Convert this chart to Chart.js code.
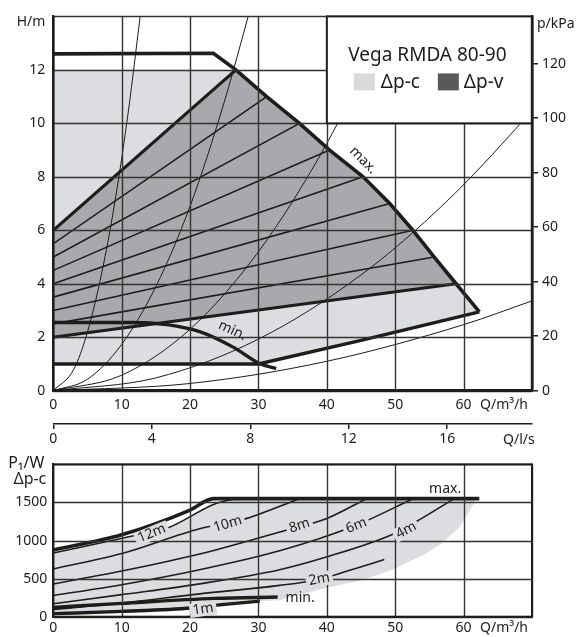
<!DOCTYPE html>
<html>
<head>
<meta charset="utf-8">
<script src="https://cdn.jsdelivr.net/npm/chart.js@4.4.1/dist/chart.umd.min.js"></script>
<style>
    body { margin: 0; background: #fff; width: 581px; height: 637px; overflow: hidden; position: relative; }
    #headChart { position: absolute; left: 0; top: 0; }
    #powerChart { position: absolute; left: 0; top: 450px; }
</style>
</head>
<body>
<canvas id="headChart" width="581" height="450"></canvas>
<canvas id="powerChart" width="581" height="187"></canvas>
<script>
// ---- head chart (H/m over Q/m3/h) ----
const maxQ = [0, 23.4, 26.7, 31.2, 36, 40.4, 45.3, 49.2, 52.6, 55.7, 58.9, 62.3];
const maxH = [12.6, 12.62, 12, 11, 10, 9, 8, 7, 6, 5, 4, 2.95];

const minQ = [0, 11.7, 16.6, 21.4, 26.3, 30.2, 32.6];
const minH = [2.55, 2.55, 2.47, 2.21, 1.63, 1.01, 0.83];

// lower edge of the dp-c field (1 m setting)
const pcLowQ = [0, 30, 45, 62.3];
const pcLowH = [1, 1, 1.88, 2.95];
const pcTopH = 12;

// dp-v settings: start at Q=0 with half head, end on max curve
const pvStartH = [2, 2.5, 3, 3.5, 4, 4.5, 5, 5.5, 6];
const pvEndQ = [58.9, 55.7, 52.6, 49.2, 45.3, 40.4, 36, 31.2, 26.7];
const pvEndH = [4, 5, 6, 7, 8, 9, 10, 11, 12];

// system curves
const sysAQ = [0, 3, 5, 7, 9, 11, 12.7];
const sysAH = [0, 0.8, 2.2, 4.3, 7.05, 10.5, 14];
const sysBQ = [0, 5, 10, 15, 20, 25, 28.5];
const sysBH = [0, 0.43, 1.73, 3.9, 6.9, 10.8, 14];
const sysCQ = [0, 10, 20, 30, 40, 49.2];
const sysCH = [0, 0.58, 2.3, 5.2, 9.25, 14];
const sysDQ = [0, 15, 30, 45, 57.4, 68.2, 70];
const sysDH = [0, 0.48, 1.93, 4.33, 7.05, 9.96, 10.5];
const sysEQ = [0, 20, 40, 60, 70];
const sysEH = [0, 0.27, 1.1, 2.47, 3.36];

// ---- power chart (P1/W over Q/m3/h) ----
const pMaxQ = [0, 10, 20, 23.4, 62.3];
const pMaxP = [875, 1075, 1400, 1550, 1550];
const p12Q = [0, 11.9, 16.8, 23.6, 26.5];
const p12P = [836, 1066, 1168, 1480, 1550];
const p10Q = [0, 10, 21.4, 27.7, 36];
const p10P = [626, 830, 1155, 1275, 1550];
const p8Q = [0, 10, 21.4, 33, 40, 45.8];
const p8P = [431, 600, 824, 1110, 1290, 1550];
const p6Q = [0, 10, 21.4, 33.1, 44, 52.6];
const p6P = [279, 420, 617, 865, 1190, 1550];
const p4Q = [0, 10, 21.4, 33.1, 39.9, 49.9, 54, 58.6];
const p4P = [171, 290, 431, 617, 783, 1093, 1298, 1550];
const p2Q = [0, 10, 21.4, 33.1, 38.9, 43, 48.4];
const p2P = [95, 180, 300, 411, 493, 600, 750];
const p1Q = [0, 10, 20.2, 24.3, 30.2];
const p1P = [40, 70, 114, 155, 205];
const pMinQ = [0, 10, 23.6, 32.8];
const pMinP = [122, 175, 240, 258];
// right/lower edge of the grey dp-c field
const fieldQ = [61.8, 61.5, 59.4, 56.8, 54.3, 49.6, 44.8, 40.4, 33.1];
const fieldP = [1550, 1485, 1175, 960, 820, 617, 473, 390, 215];

const curveLabels = ['12m', '10m', '8m', '6m', '4m', '2m', '1m'];
const curveLabelQ = [14.4, 25.5, 36, 44.3, 51.6, 38.9, 21.9];
const curveLabelP = [1095, 1217, 1196, 1196, 1134, 493, 100];

const qGrid = [0, 10, 20, 30, 40, 50, 60, 70];
const hGrid = [0, 2, 4, 6, 8, 10, 12, 14];
const pGrid = [0, 500, 1000, 1500, 2000];
const lsTickStep = 4;
const kpaPerM = 9.81;

Chart.defaults.font.family = "'Noto Sans', 'DejaVu Sans', sans-serif";
Chart.defaults.font.size = 14;
Chart.defaults.color = '#1d1d1b';

const INK = '#1d1d1b';
const GRID = '#333332';
const LIGHT = '#dcdde0';
const DARK = '#a7a9ac';

const pts = (qs, vs) => qs.map((q, i) => ({ x: q, y: vs[i] }));

function line(data, width, smooth) {
    return {
        data: data,
        borderColor: INK,
        borderWidth: width,
        pointRadius: 0,
        fill: false,
        tension: smooth ? 0.4 : 0,
        cubicInterpolationMode: smooth ? 'monotone' : 'default',
        order: 1
    };
}

function area(data, color, order) {
    return {
        data: data,
        borderWidth: 0,
        borderColor: 'transparent',
        backgroundColor: color,
        pointRadius: 0,
        fill: 'shape',
        tension: 0,
        order: order
    };
}

function tag(ctx, text, x, y, angle, bg) {
    ctx.save();
    ctx.translate(x, y);
    ctx.rotate(angle * Math.PI / 180);
    const w = ctx.measureText(text).width;
    if (bg) {
        ctx.fillStyle = bg;
        ctx.fillRect(-w / 2 - 3, -7, w + 6, 14);
    }
    ctx.fillStyle = INK;
    ctx.textAlign = 'center';
    ctx.textBaseline = 'middle';
    ctx.fillText(text, 0, 0);
    ctx.restore();
}

// grid lines drawn over the shaded fields through the scales
function drawGrid(chart, xVals, yVals) {
    const ctx = chart.ctx;
    const a = chart.chartArea;
    const xs = chart.scales.x, ys = chart.scales.y;
    ctx.save();
    ctx.strokeStyle = GRID;
    ctx.lineWidth = 1.4;
    xVals.forEach(v => {
        const px = Math.round(xs.getPixelForValue(v)) + 0.5;
        ctx.beginPath();
        ctx.moveTo(px, a.top);
        ctx.lineTo(px, a.bottom);
        ctx.stroke();
    });
    yVals.forEach(v => {
        const py = Math.round(ys.getPixelForValue(v)) + 0.5;
        ctx.beginPath();
        ctx.moveTo(a.left, py);
        ctx.lineTo(a.right, py);
        ctx.stroke();
    });
    ctx.restore();
}

const noGrid = { display: false, drawTicks: false };

// ---------- head chart ----------
const pcArea = [{ x: 0, y: pcLowH[0] }, { x: 0, y: pcTopH }]
    .concat(pts(maxQ.slice(2), maxH.slice(2)))
    .concat(pts(pcLowQ, pcLowH).reverse());

const pvArea = [{ x: 0, y: pvStartH[0] }, { x: 0, y: pvStartH[pvStartH.length - 1] }]
    .concat(pts(maxQ.slice(2, 11), maxH.slice(2, 11)));

const headSets = [area(pcArea, LIGHT, 10), area(pvArea, DARK, 9)];
pvStartH.forEach((h, i) => {
    const edge = i === 0 || i === pvStartH.length - 1;
    headSets.push(line([{ x: 0, y: h }, { x: pvEndQ[i], y: pvEndH[i] }], edge ? 3.2 : 1.6));
});
[[sysAQ, sysAH], [sysBQ, sysBH], [sysCQ, sysCH], [sysDQ, sysDH], [sysEQ, sysEH]].forEach(c => {
    headSets.push(line(pts(c[0], c[1]), 1, true));
});
headSets.push(line(pts(pcLowQ, pcLowH), 3.4));
headSets.push(line(pts(maxQ, maxH), 3.6));
headSets.push(line(pts(minQ, minH), 3.4, true));

const headText = {
    id: 'headText',
    afterDraw(chart) {
        const ctx = chart.ctx;
        const xs = chart.scales.x, ys = chart.scales.y;
        const a = chart.chartArea;

        drawGrid(chart, qGrid, hGrid);

        // legend box in the upper right grid cells
        const bx = xs.getPixelForValue(40), by = ys.getPixelForValue(14);
        const bw = xs.getPixelForValue(70) - bx, bh = ys.getPixelForValue(10) - by;
        ctx.save();
        ctx.fillStyle = '#fff';
        ctx.fillRect(bx, by, bw, bh);
        ctx.strokeStyle = INK;
        ctx.lineWidth = 2;
        ctx.strokeRect(bx, by, bw, bh);
        ctx.fillStyle = INK;
        ctx.font = "19px 'Noto Sans', sans-serif";
        ctx.textAlign = 'center';
        ctx.textBaseline = 'middle';
        ctx.fillText('Vega RMDA 80-90', bx + bw / 2 - 2, by + 39);
        ctx.fillStyle = '#d9dadc';
        ctx.fillRect(bx + 27, by + 57, 21, 17);
        ctx.fillStyle = '#58595b';
        ctx.fillRect(bx + 111, by + 57, 21, 17);
        ctx.fillStyle = INK;
        ctx.textAlign = 'left';
        ctx.fillText('Δp-c', bx + 54, by + 66);
        ctx.fillText('Δp-v', bx + 137, by + 66);

        // axis lines
        ctx.lineWidth = 2.4;
        ctx.beginPath();
        ctx.moveTo(a.left, a.top);
        ctx.lineTo(a.left, a.bottom);
        ctx.lineTo(a.right, a.bottom);
        ctx.lineTo(a.right, a.top);
        ctx.stroke();

        // axis captions
        ctx.font = "14px 'Noto Sans', sans-serif";
        ctx.textAlign = 'right';
        ctx.fillText('H/m', a.left - 8, 22);
        ctx.textAlign = 'left';
        ctx.fillText('p/kPa', a.right + 5, 24);
        ctx.fillText('Q/m³/h', a.right - 52, 405);
        ctx.fillText('Q/l/s', a.right - 29, 440);

        // curve captions
        tag(ctx, 'max.', xs.getPixelForValue(45.3), ys.getPixelForValue(8.62), 45);
        tag(ctx, 'min.', xs.getPixelForValue(26.2), ys.getPixelForValue(2.25), 25);
        ctx.restore();
    }
};

new Chart(document.getElementById('headChart'), {
    type: 'line',
    data: { datasets: headSets },
    plugins: [headText],
    options: {
        responsive: false,
        animation: false,
        events: [],
        layout: { padding: { top: 12.5, left: 0, right: 0, bottom: 0 } },
        plugins: { legend: { display: false }, tooltip: { enabled: false } },
        scales: {
            x: {
                type: 'linear', min: 0, max: 70, weight: 0,
                ticks: { stepSize: 10, padding: 6, maxRotation: 0, callback: v => v === 70 ? '' : v },
                grid: noGrid,
                border: { color: INK, width: 2.5 },
                afterFit: s => { s.height = 33.3; }
            },
            x2: {
                type: 'linear', position: 'bottom', min: 0, max: 70 / 3.6, weight: 1,
                ticks: { stepSize: lsTickStep, includeBounds: false, padding: 2, maxRotation: 0 },
                grid: { drawOnChartArea: false, drawTicks: true, tickLength: 5, color: INK, lineWidth: 1.5 },
                border: { color: INK, width: 1.5 },
                afterFit: s => { s.height = 26; }
            },
            y: {
                type: 'linear', min: 0, max: 14,
                ticks: { stepSize: 2, padding: 8, callback: v => v === 14 ? '' : v },
                grid: noGrid,
                border: { color: INK, width: 2.2 },
                afterFit: s => { s.width = 53.3; }
            },
            y2: {
                type: 'linear', position: 'right', min: 0, max: 14 * kpaPerM,
                ticks: { stepSize: 20, includeBounds: false, padding: 4 },
                grid: { drawOnChartArea: false, drawTicks: true, tickLength: 6, color: INK, lineWidth: 1.5 },
                border: { color: INK, width: 2.5 },
                afterFit: s => { s.width = 49; }
            }
        }
    }
});

// ---------- power chart ----------
const fieldArea = pts(p12Q, p12P)
    .concat(pts(fieldQ, fieldP))
    .concat(pts(p1Q, p1P).reverse());

const powerSets = [area(fieldArea, LIGHT, 10)];
[[p12Q, p12P], [p10Q, p10P], [p8Q, p8P], [p6Q, p6P], [p4Q, p4P], [p2Q, p2P]].forEach(c => {
    powerSets.push(line(pts(c[0], c[1]), 1.6, true));
});
powerSets.push(line(pts(p1Q, p1P), 3.4, true));
powerSets.push(line(pts(pMinQ, pMinP), 3.4, true));
powerSets.push(line(pts(pMaxQ, pMaxP), 3.6, true));

const powerText = {
    id: 'powerText',
    afterDraw(chart) {
        const ctx = chart.ctx;
        const xs = chart.scales.x, ys = chart.scales.y;
        const a = chart.chartArea;

        drawGrid(chart, qGrid, pGrid);

        ctx.save();
        ctx.strokeStyle = INK;
        ctx.lineWidth = 2;
        ctx.strokeRect(a.left, a.top, a.right - a.left, a.bottom - a.top);

        ctx.font = "14px 'Noto Sans', sans-serif";
        const angles = [-22, -17, -18, -22, -28, -10, -8];
        curveLabels.forEach((t, i) => {
            tag(ctx, t, xs.getPixelForValue(curveLabelQ[i]), ys.getPixelForValue(curveLabelP[i]), angles[i], LIGHT);
        });
        tag(ctx, 'max.', xs.getPixelForValue(57.3), ys.getPixelForValue(1681), 0);
        tag(ctx, 'min.', xs.getPixelForValue(36.1), ys.getPixelForValue(240), 0);

        ctx.fillStyle = INK;
        ctx.textAlign = 'right';
        ctx.textBaseline = 'middle';
        ctx.font = "16px 'Noto Sans', sans-serif";
        ctx.fillText('P₁/W', a.left - 9, 13);
        ctx.fillText('Δp-c', a.left - 7, 29);
        ctx.font = "14px 'Noto Sans', sans-serif";
        ctx.textAlign = 'left';
        ctx.fillText('Q/m³/h', a.right - 52, 178);
        ctx.restore();
    }
};

new Chart(document.getElementById('powerChart'), {
    type: 'line',
    data: { datasets: powerSets },
    plugins: [powerText],
    options: {
        responsive: false,
        animation: false,
        events: [],
        layout: { padding: { top: 4.3, left: 0, right: 49, bottom: 0 } },
        plugins: { legend: { display: false }, tooltip: { enabled: false } },
        scales: {
            x: {
                type: 'linear', min: 0, max: 70,
                ticks: { stepSize: 10, padding: 3, maxRotation: 0, callback: v => v === 70 ? '' : v },
                grid: noGrid,
                border: { color: INK, width: 2 },
                afterFit: s => { s.height = 20.3; }
            },
            y: {
                type: 'linear', min: 0, max: 2000,
                ticks: { stepSize: 500, padding: 6, callback: v => v === 2000 ? '' : v },
                grid: noGrid,
                border: { color: INK, width: 2 },
                afterFit: s => { s.width = 53.3; }
            }
        }
    }
});
</script>
</body>
</html>
